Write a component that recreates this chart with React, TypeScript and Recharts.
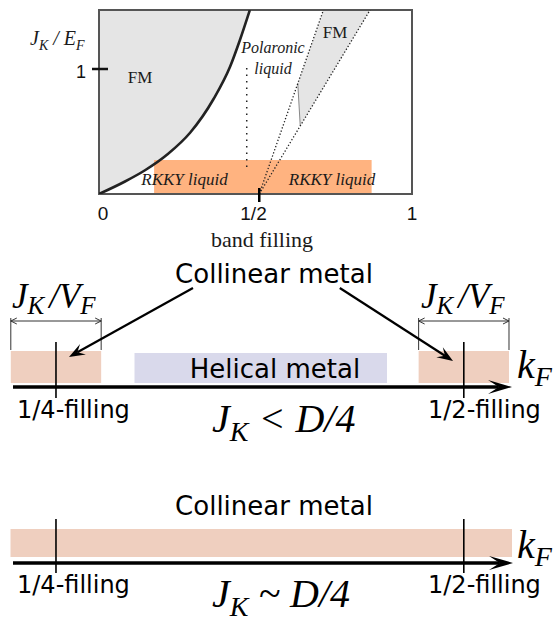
import React from 'react';
import {
  ComposedChart,
  Area,
  Line,
  XAxis,
  YAxis,
  ReferenceArea,
  ReferenceLine,
} from 'recharts';

// ---- phase diagram (top) ----
const fillingTicks = [0, 0.5, 1];
const fillingTickLabels = ['0', '1/2', '1'];
const jkTicks = [1];
const J_MAX = 1.472;

// FM boundary at low filling
const fmBoundaryX = [0, 0.083, 0.147, 0.22, 0.291, 0.366, 0.419, 0.45, 0.482];
const fmBoundaryY = [0, 0.1, 0.19, 0.32, 0.49, 0.76, 1.02, 1.23, 1.472];

// FM pocket between the two crossover lines
const wedgeX = [0.635, 0.643, 0.717, 0.866];
const wedgeLow = [0.886, 0.544, 0.85, 1.472];
const wedgeHigh = [0.886, 0.94, 1.472, 1.472];

const apexX = 0.512;
const crossoverTopX = [0.717, 0.866];
const polaronicX = 0.472;
const polaronicY = [0.216, 1.048];
const rkkyX = [0.176, 0.871];
const rkkyTop = 0.272;

// ---- k_F sketches (bottom) ----
const fillingMarkKF = [0.0916, 0.904];
const fillingMarkLabels = ['1/4-filling', '1/2-filling'];
const collinearWidth = 0.18; // J_K / v_F window
const helicalKF = [0.248, 0.751];
const collinearFullKF = [0.001, 1.0];
const pointerFrom = [0.3645, 0.657];
const pointerTo = [0.1175, 0.8825];

const SERIF = '"Liberation Serif", "DejaVu Serif", serif';
const SANS = '"DejaVu Sans", Verdana, sans-serif';
const ARIAL = '"Liberation Sans", Arial, sans-serif';
const PEACH = '#efcfbf';
const LAVENDER = '#d9d9eb';

const fmArea = fmBoundaryX.map((x, i) => ({ x, range: [fmBoundaryY[i], J_MAX] }));
const fmLine = fmBoundaryX.map((x, i) => ({ x, y: fmBoundaryY[i] }));
const wedgeArea = wedgeX.map((x, i) => ({ x, range: [wedgeLow[i], wedgeHigh[i]] }));
const wedgeEdge = [
  { x: wedgeX[0], y: wedgeLow[0] },
  { x: wedgeX[1], y: wedgeLow[1] },
];
const crossLines = crossoverTopX.map((t) => [
  { x: apexX, y: 0 },
  { x: t, y: J_MAX },
]);
const polaronicLine = polaronicY.map((y) => ({ x: polaronicX, y }));

const unit = (x1: number, y1: number, x2: number, y2: number) => {
  const d = Math.hypot(x2 - x1, y2 - y1) || 1;
  return [(x2 - x1) / d, (y2 - y1) / d];
};

const solidArrow =
  (width: number, len: number, half: number, notch: number) => (p: any) => {
    const { x1, y1, x2, y2 } = p;
    const [ux, uy] = unit(x1, y1, x2, y2);
    const nx = -uy;
    const ny = ux;
    const bx = x2 - ux * len;
    const by = y2 - uy * len;
    const mx = x2 - ux * len * notch;
    const my = y2 - uy * len * notch;
    return (
      <g>
        <line x1={x1} y1={y1} x2={mx} y2={my} stroke="#000" strokeWidth={width} />
        <path
          d={`M${x2},${y2}L${bx + nx * half},${by + ny * half}L${mx},${my}L${bx - nx * half},${by - ny * half}Z`}
          fill="#000"
        />
      </g>
    );
  };

const dimArrow = (p: any) => {
  const { x1, y1, x2, y2 } = p;
  const [ux, uy] = unit(x1, y1, x2, y2);
  const nx = -uy * 3;
  const ny = ux * 3;
  const L = 6;
  return (
    <g fill="none" stroke="#333" strokeWidth={1}>
      <line x1={x1} y1={y1} x2={x2} y2={y2} />
      <path d={`M${x1 + ux * L + nx},${y1 + uy * L + ny}L${x1},${y1}L${x1 + ux * L - nx},${y1 + uy * L - ny}`} />
      <path d={`M${x2 - ux * L + nx},${y2 - uy * L + ny}L${x2},${y2}L${x2 - ux * L - nx},${y2 - uy * L - ny}`} />
    </g>
  );
};

const XTick = (props: any) => {
  const { x, y, payload } = props;
  const i = fillingTicks.indexOf(payload.value);
  const dx = payload.value === 0 ? 4 : payload.value === 0.5 ? -2 : 0;
  return (
    <text x={x + dx} y={y + 26} textAnchor="middle" fontFamily={ARIAL} fontSize={19} fill="#111">
      {fillingTickLabels[i]}
    </text>
  );
};

const YTick = (props: any) => {
  const { x, y, payload } = props;
  return (
    <g>
      <line x1={x - 7} x2={x + 9} y1={y} y2={y} stroke="#111" strokeWidth={2.5} />
      <text x={x - 18} y={y + 9} textAnchor="middle" fontFamily={ARIAL} fontSize={18} fill="#111">
        {payload.value}
      </text>
    </g>
  );
};

const TopLabels = () => (
  <g fill="#1a1a1a" fontFamily={SERIF}>
    <text x={30} y={45} fontStyle="italic" fontSize={20}>
      J<tspan fontSize={14} dy={5}>K</tspan>
      <tspan dy={-5}> / E</tspan>
      <tspan fontSize={14} dy={5}>F</tspan>
    </text>
    <text x={140} y={83} textAnchor="middle" fontSize={17}>FM</text>
    <text x={335} y={38} textAnchor="middle" fontSize={17}>FM</text>
    <text x={273} y={53} textAnchor="middle" fontStyle="italic" fontSize={16}>Polaronic</text>
    <text x={273} y={74} textAnchor="middle" fontStyle="italic" fontSize={16}>liquid</text>
    <text x={184.5} y={185} textAnchor="middle" fontStyle="italic" fontSize={17}>RKKY liquid</text>
    <text x={332} y={185} textAnchor="middle" fontStyle="italic" fontSize={17}>RKKY liquid</text>
    <text x={262} y={247} textAnchor="middle" fontSize={22}>band filling</text>
  </g>
);

const JV = ({ x }: { x: number }) => (
  <text x={x} y={308} fontFamily={SERIF} fontStyle="italic" fontSize={35} fill="#000">
    J<tspan fontSize={25} dy={6}>K</tspan>
    <tspan dy={-6} dx={5}>/V</tspan>
    <tspan fontSize={25} dy={6}>F</tspan>
  </text>
);

const KF = ({ y }: { y: number }) => (
  <text x={517} y={y} fontFamily={SERIF} fontStyle="italic" fontSize={40} fill="#000">
    k<tspan fontSize={28} dy={8}>F</tspan>
  </text>
);

const JD = ({ y, rel }: { y: number; rel: string }) => (
  <text x={212} y={y} fontFamily={SERIF} fontStyle="italic" fontSize={40} fill="#000">
    J<tspan fontSize={28} dy={9}>K</tspan>
    <tspan dy={-9}>{` ${rel} D/4`}</tspan>
  </text>
);

const BottomLabels = () => (
  <g fontFamily={SANS} fill="#000">
    <text x={274} y={283} textAnchor="middle" fontSize={26}>Collinear metal</text>
    <text x={275} y={378} textAnchor="middle" fontSize={26}>Helical metal</text>
    <JV x={12} />
    <JV x={421} />
    <KF y={378} />
    <text x={17} y={418} fontSize={24}>{fillingMarkLabels[0]}</text>
    <text x={428} y={418} fontSize={24}>{fillingMarkLabels[1]}</text>
    <JD y={432} rel="<" />

    <text x={274} y={515} textAnchor="middle" fontSize={26}>Collinear metal</text>
    <KF y={558} />
    <text x={17} y={593} fontSize={24}>{fillingMarkLabels[0]}</text>
    <text x={428} y={593} fontSize={24}>{fillingMarkLabels[1]}</text>
    <JD y={607} rel="~" />
  </g>
);

const axisArrow = solidArrow(3.5, 24, 7, 0.55);
const pointerArrow = solidArrow(2.2, 16, 6, 0.6);

export default function App() {
  return (
    <div style={{ position: 'absolute', left: 0, top: 0, width: 554, height: 622, background: '#fff' }}>
      <div style={{ position: 'absolute', left: 0, top: 0 }}>
        <ComposedChart width={554} height={250} margin={{ top: 10, right: 142, bottom: 26, left: 0 }}>
          <XAxis
            dataKey="x"
            type="number"
            domain={[0, 1]}
            ticks={fillingTicks}
            allowDataOverflow
            axisLine={false}
            tickLine={false}
            tickSize={0}
            tickMargin={0}
            height={30}
            tick={<XTick />}
          />
          <YAxis
            dataKey="y"
            type="number"
            domain={[0, J_MAX]}
            ticks={jkTicks}
            allowDataOverflow
            axisLine={false}
            tickLine={false}
            tickSize={0}
            tickMargin={0}
            width={99}
            tick={<YTick />}
          />
          <Area data={fmArea} dataKey="range" type="monotone" fill="#e5e5e5" fillOpacity={1} stroke="none" isAnimationActive={false} />
          <Area data={wedgeArea} dataKey="range" type="linear" fill="#e5e5e5" fillOpacity={1} stroke="none" isAnimationActive={false} />
          <ReferenceArea x1={rkkyX[0]} x2={rkkyX[1]} y1={0} y2={rkkyTop} fill="#ffb380" fillOpacity={1} stroke="none" />
          <Line data={fmLine} dataKey="y" type="monotone" stroke="#222" strokeWidth={2.6} dot={false} isAnimationActive={false} />
          <Line data={wedgeEdge} dataKey="y" type="linear" stroke="#888" strokeWidth={1} dot={false} isAnimationActive={false} />
          {crossLines.map((d, i) => (
            <Line key={i} data={d} dataKey="y" type="linear" stroke="#222" strokeWidth={1.3} strokeDasharray="1.3 2" dot={false} isAnimationActive={false} />
          ))}
          <Line data={polaronicLine} dataKey="y" type="linear" stroke="#222" strokeWidth={1.5} strokeDasharray="1.5 5" dot={false} isAnimationActive={false} />
          <ReferenceLine
            segment={[
              { x: apexX, y: -0.064 },
              { x: apexX, y: 0.048 },
            ]}
            stroke="#000"
            strokeWidth={2.5}
            ifOverflow="visible"
          />
          <ReferenceArea x1={0} x2={1} y1={0} y2={J_MAX} fill="none" stroke="#555" strokeWidth={2} />
        </ComposedChart>
      </div>

      <div style={{ position: 'absolute', left: 0, top: 0 }}>
        <ComposedChart width={554} height={622} margin={{ top: 250, right: 42, bottom: 0, left: 10 }}>
          <XAxis type="number" dataKey="x" domain={[0, 1]} hide allowDataOverflow />
          <YAxis type="number" dataKey="y" domain={[250, 622]} reversed hide allowDataOverflow />

          {/* J_K < D/4 */}
          {fillingMarkKF.map((k) => (
            <ReferenceArea key={k} x1={k - collinearWidth / 2} x2={k + collinearWidth / 2} y1={351} y2={383} fill={PEACH} fillOpacity={1} stroke="none" ifOverflow="visible" />
          ))}
          <ReferenceArea x1={helicalKF[0]} x2={helicalKF[1]} y1={353} y2={383} fill={LAVENDER} fillOpacity={1} stroke="none" />
          {fillingMarkKF.map((k) => (
            <ReferenceLine key={'d' + k} segment={[{ x: k - collinearWidth / 2, y: 321 }, { x: k + collinearWidth / 2, y: 321 }]} shape={dimArrow} ifOverflow="visible" />
          ))}
          {fillingMarkKF.flatMap((k) => [k - collinearWidth / 2, k + collinearWidth / 2]).map((k) => (
            <ReferenceLine key={'e' + k} segment={[{ x: k, y: 318 }, { x: k, y: 350 }]} stroke="#333" strokeWidth={1} ifOverflow="visible" />
          ))}
          <ReferenceLine segment={[{ x: 0.006, y: 387 }, { x: 1.0, y: 387 }]} shape={axisArrow} ifOverflow="visible" />
          {fillingMarkKF.map((k) => (
            <ReferenceLine key={'t' + k} segment={[{ x: k, y: 342 }, { x: k, y: 398 }]} stroke="#000" strokeWidth={1.6} ifOverflow="visible" />
          ))}
          <ReferenceLine segment={[{ x: pointerFrom[0], y: 288 }, { x: pointerTo[0], y: 357 }]} shape={pointerArrow} ifOverflow="visible" />
          <ReferenceLine segment={[{ x: pointerFrom[1], y: 288 }, { x: pointerTo[1], y: 361 }]} shape={pointerArrow} ifOverflow="visible" />

          {/* J_K ~ D/4 */}
          <ReferenceArea x1={collinearFullKF[0]} x2={collinearFullKF[1]} y1={529} y2={557} fill={PEACH} fillOpacity={1} stroke="none" ifOverflow="visible" />
          <ReferenceLine segment={[{ x: 0.006, y: 563 }, { x: 1.002, y: 563 }]} shape={axisArrow} ifOverflow="visible" />
          {fillingMarkKF.map((k) => (
            <ReferenceLine key={'u' + k} segment={[{ x: k, y: 519 }, { x: k, y: 573 }]} stroke="#000" strokeWidth={1.6} ifOverflow="visible" />
          ))}
        </ComposedChart>
      </div>

      <svg width={554} height={622} style={{ position: 'absolute', left: 0, top: 0, pointerEvents: 'none' }}>
        <TopLabels />
        <BottomLabels />
      </svg>
    </div>
  );
}
